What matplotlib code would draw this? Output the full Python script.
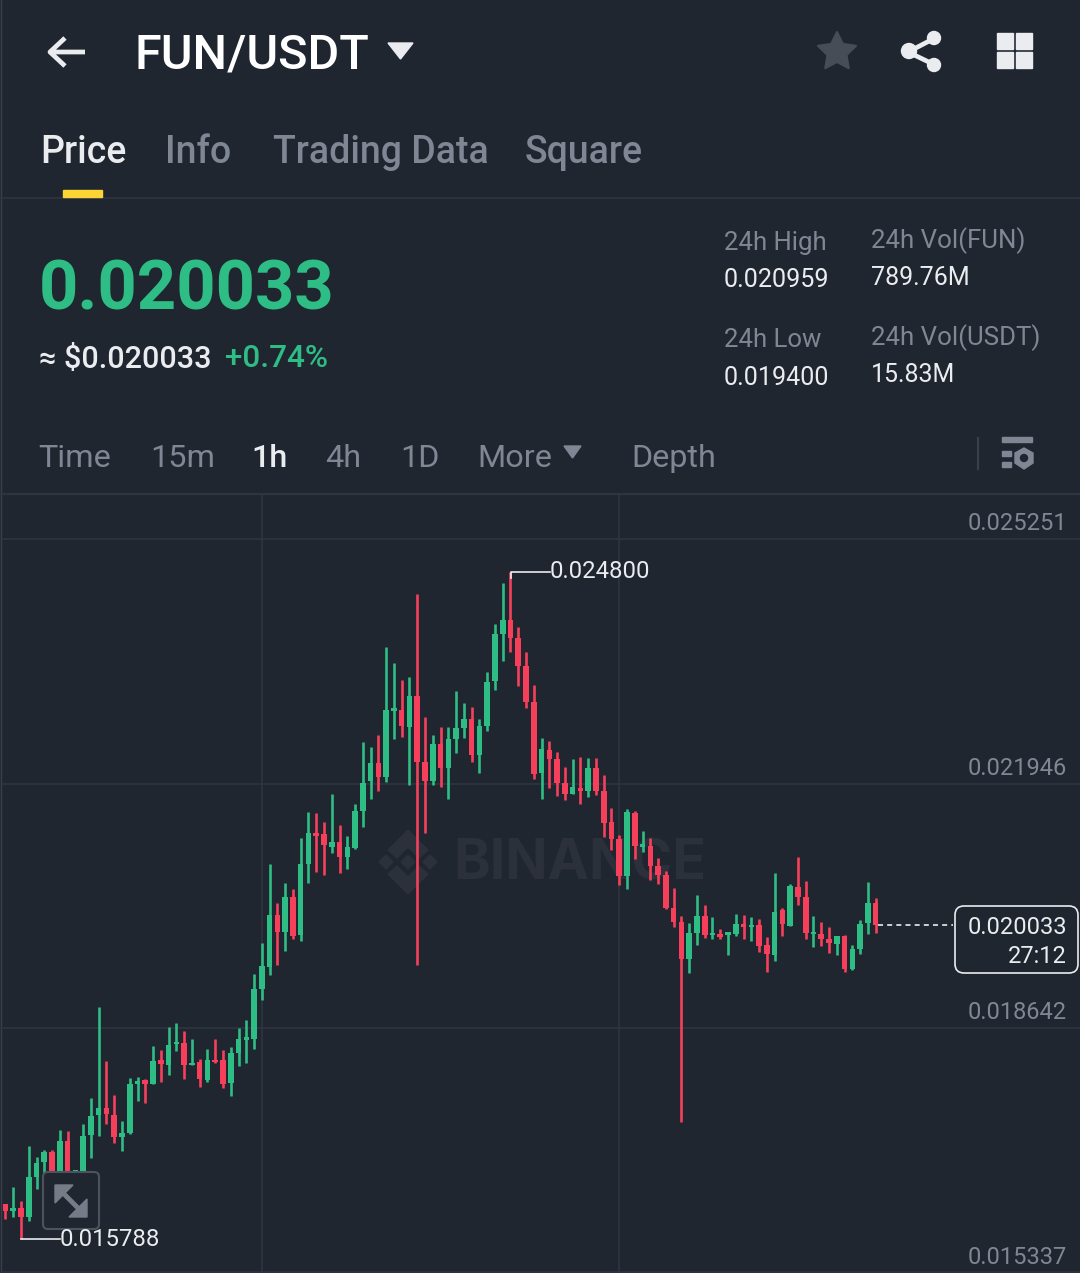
import numpy as np
import matplotlib
matplotlib.use("Agg")
import matplotlib.pyplot as plt
from matplotlib.patches import Circle, FancyBboxPatch, Polygon, Rectangle

# prices x 1e-6, one value per hourly candle
opens = [16263, 16168, 16209, 16087, 16628, 16831, 16966, 16709, 17114, 16520,
         16655, 17196, 17466, 17561, 17466, 17168, 17222, 17885, 17939, 17885,
         18209, 18141, 18425, 18439, 18141, 18182, 17939, 18209, 18209, 17898,
         18304, 18479, 18493, 19169, 19466, 20169, 19939, 20412, 19899, 20858,
         21277, 21264, 21088, 21156, 20953, 21075, 21574, 21980, 22224, 22034,
         22926, 22940, 22710, 23129, 22237, 21980, 22480, 22156, 22548, 22697,
         22818, 22332, 22724, 23332, 23967, 24156, 23913, 23535, 23048, 22089,
         22399, 22278, 21953, 21805, 21886, 21845, 22156, 21845, 21426, 21196,
         20696, 21548, 21088, 21102, 20831, 20710, 20264, 20074, 19574, 19925,
         20155, 19899, 19912, 19899, 19912, 20047, 20007, 20034, 19763, 19628,
         20237, 20020, 20548, 20412, 19912, 19912, 19845, 19777, 19885, 19439,
         19709, 20061, 20331]
highs = [16263, 16493, 16303, 17047, 16898, 16993, 16993, 17263, 17250, 16722,
         17344, 17695, 18925, 18195, 17736, 17385, 17966, 17979, 17953, 18398,
         18344, 18655, 18709, 18601, 18493, 18222, 18358, 18493, 18344, 18385,
         18641, 18749, 19371, 19790, 20858, 20331, 20601, 20520, 21210, 21561,
         21548, 21426, 21805, 21386, 21237, 21669, 22507, 22440, 22602, 23792,
         23575, 23345, 23386, 24508, 22845, 22602, 22710, 22710, 23197, 23035,
         22981, 22818, 23454, 24103, 24656, 24800, 24062, 23724, 23278, 22561,
         22521, 22372, 22170, 22278, 22305, 22291, 22291, 22061, 21615, 21250,
         21602, 21575, 21304, 21210, 20939, 20764, 20534, 20155, 20061, 20439,
         20304, 20142, 19980, 19939, 20182, 20169, 20142, 20115, 19872, 20737,
         20264, 20588, 20953, 20629, 20155, 20074, 20007, 19885, 19899, 19763,
         20101, 20615, 20399]
lows = [16060, 16087, 15788, 16033, 16466, 16655, 16655, 16695, 16614, 16452,
        16587, 16885, 17182, 17344, 17087, 16979, 17209, 17655, 17628, 17885,
        17912, 18006, 18331, 17953, 18141, 17844, 17912, 18168, 17831, 17722,
        18128, 18168, 18358, 19020, 19358, 19493, 19682, 19845, 19818, 20601,
        20750, 20710, 21007, 20737, 20791, 21061, 21358, 21737, 21845, 21967,
        22548, 22575, 21926, 19493, 21277, 21926, 21899, 21737, 22359, 22561,
        22237, 22089, 22656, 23210, 23602, 23724, 23264, 22967, 22007, 21737,
        21886, 21778, 21723, 21805, 21669, 21764, 21791, 21223, 21048, 20574,
        20520, 20926, 21021, 20642, 20588, 20250, 20007, 17371, 19385, 19763,
        19858, 19845, 19845, 19628, 19885, 19845, 19818, 19669, 19398, 19547,
        19885, 20020, 20304, 19845, 19736, 19750, 19655, 19628, 19398, 19425,
        19642, 19912, 19925]
closes = [16168, 16209, 16087, 16628, 16817, 16966, 16695, 17114, 16695, 16722,
          17182, 17452, 17561, 17479, 17168, 17222, 17885, 17925, 17885, 18195,
          18155, 18412, 18452, 18141, 18168, 17953, 18209, 18182, 17885, 18304,
          18493, 18520, 19169, 19480, 20169, 19939, 20412, 19885, 20858, 21277,
          21237, 21115, 21156, 20953, 21088, 21574, 21953, 22224, 22034, 22940,
          22967, 22724, 23129, 22237, 21980, 22480, 22156, 22548, 22697, 22818,
          22332, 22724, 23318, 23967, 24156, 23913, 23535, 23048, 22075, 22413,
          22278, 21953, 21805, 21899, 21845, 22156, 21845, 21413, 21196, 20696,
          21561, 21102, 21129, 20831, 20710, 20264, 20074, 19574, 19925, 20155,
          19899, 19925, 19872, 19939, 20047, 20007, 20034, 19750, 19642, 20210,
          20047, 20561, 20412, 19925, 19939, 19845, 19791, 19885, 19439, 19709,
          20047, 20331, 20033]
grid_prices = [25251, 21946, 18642, 15337]
grid_labels = ["0.025251", "0.021946", "0.018642", "0.015337"]
grid_hours = [33, 79]

tabs = ["Price", "Info", "Trading Data", "Square"]
tab_x = [40, 165, 273, 525]
periods = ["Time", "15m", "1h", "4h", "1D", "More", "Depth"]
period_x = [38, 150, 251, 325, 400, 477, 631]

BG = "#1f2630"
GREEN = "#2ebd85"
RED = "#f6405b"
GRID = "#2f3540"
GRAY = "#7f8794"
WHITE = "#eaecef"
FONT = "Roboto"

W, H = 1080, 1273
fig = plt.figure(figsize=(W / 100, H / 100), dpi=100, facecolor=BG)


def pixel_axes(zorder):
    ax = fig.add_axes([0, 0, 1, 1], zorder=zorder)
    ax.set_xlim(0, W)
    ax.set_ylim(H, 0)
    ax.axis("off")
    return ax


def label(ax, x, y, s, size, color=GRAY, weight="normal", ha="left", font=FONT):
    ax.text(x, y, s, fontsize=size, color=color, fontweight=weight, ha=ha,
            va="baseline", family=font)


back = pixel_axes(1)
back.plot([0.5, 0.5], [0, H], color="#3a404b", lw=1)
back.plot([0, W], [198, 198], color=GRID, lw=1.2)
back.plot([0, W], [494, 494], color=GRID, lw=1.6)

# watermark
WM = "#2b303b"
for cx, cy, r in [(408, 862, 7), (386, 862, 7), (430, 862, 7)]:
    back.add_patch(Polygon([(cx - r, cy), (cx, cy - r), (cx + r, cy), (cx, cy + r)], color=WM))
back.add_patch(Polygon([(408, 830), (428, 850), (419, 858), (408, 847), (397, 858), (388, 850)], color=WM))
back.add_patch(Polygon([(408, 894), (428, 874), (419, 866), (408, 877), (397, 866), (388, 874)], color=WM))
label(back, 453, 880, "BINANCE", 40, color=WM, weight="bold", font="Inter")

# candles, scaled so the grid prices land on their rows
chart = fig.add_axes([0, 0, 1, (H - 494) / H], zorder=2, facecolor="none")
idx = np.arange(len(opens))
o, h, l, c = [np.array(a) * 1e-6 for a in (opens, highs, lows, closes)]
colors = [GREEN if up else RED for up in c >= o]
chart.set_xlim(-0.7, 138.3)
chart.set_ylim(0.015330, 0.025859)
chart.set_yticks(np.array(grid_prices) * 1e-6)
chart.set_xticks(grid_hours)
chart.grid(True, color=GRID, lw=1.2)
chart.tick_params(left=False, bottom=False, labelleft=False, labelbottom=False)
for side in chart.spines.values():
    side.set_visible(False)
chart.set_axisbelow(True)
chart.vlines(idx, l, h, colors=colors, lw=1.9)
chart.bar(idx, np.maximum(np.abs(c - o), 0.00003), bottom=np.minimum(o, c),
          width=0.72, color=colors)

ui = pixel_axes(3)

# header
ui.plot([85, 50, 65], [52, 52, 38], color=WHITE, lw=3.4, solid_capstyle="butt")
ui.plot([50, 65], [52, 66], color=WHITE, lw=3.4, solid_capstyle="butt")
label(ui, 135, 68, "FUN/USDT", 35, color="#ffffff", weight="medium")
ui.add_patch(Polygon([(388, 43), (413, 43), (400.5, 59)], color=WHITE))
angles = np.radians(np.arange(10) * 36 - 90)
radii = np.where(np.arange(10) % 2 == 0, 20, 10)
ui.add_patch(Polygon(np.c_[837 + radii * np.cos(angles), 52 + radii * np.sin(angles)],
                     fc="#474d57", ec="#474d57", lw=1.5, joinstyle="round"))
ui.plot([935, 908, 935], [38, 52, 65], color=WHITE, lw=3.4)
for cx, cy, r in [(934, 38, 6.5), (909, 51, 7.5), (934, 65, 6.5)]:
    ui.add_patch(Circle((cx, cy), r, color=WHITE))
for x0, y0 in [(997, 33), (1016, 33), (997, 52), (1016, 52)]:
    ui.add_patch(Rectangle((x0, y0), 16, 16, color=WHITE))

for i, (name, x) in enumerate(zip(tabs, tab_x)):
    label(ui, x, 163, name, 27, color=WHITE if i == 0 else GRAY, weight="medium")
ui.add_patch(Rectangle((63, 190), 39, 7, color="#fcd535"))

# price block
label(ui, 39, 310, "0.020033", 49.5, color=GREEN, weight="bold")
label(ui, 39, 368, "≈ $0.020033", 22, color=WHITE, weight="medium")
label(ui, 225, 367, "+0.74%", 22.6, color=GREEN, weight="medium")
label(ui, 724, 250, "24h High", 18.5, color=GRAY)
label(ui, 724, 287, "0.020959", 18.1, color=WHITE)
label(ui, 724, 347, "24h Low", 18.5, color=GRAY)
label(ui, 724, 385, "0.019400", 18.1, color=WHITE)
label(ui, 871, 248, "24h Vol(FUN)", 18.6, color=GRAY)
label(ui, 871, 285, "789.76M", 18, color=WHITE)
label(ui, 871, 345, "24h Vol(USDT)", 18.6, color=GRAY)
label(ui, 871, 382, "15.83M", 18, color=WHITE)

# period row
for name, x in zip(periods, period_x):
    on = name == "1h"
    label(ui, x, 467, name, 23.3, color=WHITE if on else GRAY, weight="medium" if on else "normal")
ui.add_patch(Polygon([(564, 446), (581, 446), (572.5, 458)], color=GRAY))
ui.plot([978, 978], [438, 469], color="#3a404b", lw=1.5)
ui.add_patch(Rectangle((1002, 437), 30, 4.5, color=GRAY))
ui.add_patch(Rectangle((1002, 451), 9, 5, color=GRAY))
ui.add_patch(Rectangle((1002, 462), 9, 5, color=GRAY))
ui.add_patch(Polygon([(1024, 448), (1033, 453), (1033, 463), (1024, 469), (1015, 463), (1015, 453)], color=GRAY))
ui.add_patch(Circle((1024, 458), 3.5, color=BG))

# axis labels and callouts
for name, p in zip(grid_labels, grid_prices):
    row = 494 + (25859 - p) / (25859 - 15330) * (H - 494)
    label(ui, 1067, row - 8.5, name, 17, color=GRAY, ha="right")
ui.plot([511, 511, 550], [578, 572, 572], color=WHITE, lw=1.2)
label(ui, 550, 578, "0.024800", 17.2, color=WHITE)
ui.plot([21, 60], [1239, 1239], color=WHITE, lw=1.2)
label(ui, 60, 1246, "0.015788", 17.2, color=WHITE)
ui.plot([878, 953], [925, 925], color=WHITE, lw=1.2, ls=(0, (3, 2.5)))
ui.add_patch(FancyBboxPatch((959, 910), 115, 59, boxstyle="round,pad=4,rounding_size=9",
                            fc=BG, ec=WHITE, lw=1.2))
label(ui, 1067, 934, "0.020033", 17, color=WHITE, ha="right")
label(ui, 1067, 963, "27:12", 17, color=WHITE, ha="right")

# expand button
ui.add_patch(FancyBboxPatch((47, 1176), 48, 49, boxstyle="round,pad=4,rounding_size=5",
                            fc=BG, ec="#4d535e", lw=1.5))
ui.plot([58, 84], [1188, 1214], color="#767c87", lw=3.5)
ui.add_patch(Polygon([(55, 1185), (73, 1185), (55, 1203)], color="#767c87"))
ui.add_patch(Polygon([(87, 1217), (69, 1217), (87, 1199)], color="#767c87"))

fig.savefig("out.png", dpi=100, facecolor=BG)
